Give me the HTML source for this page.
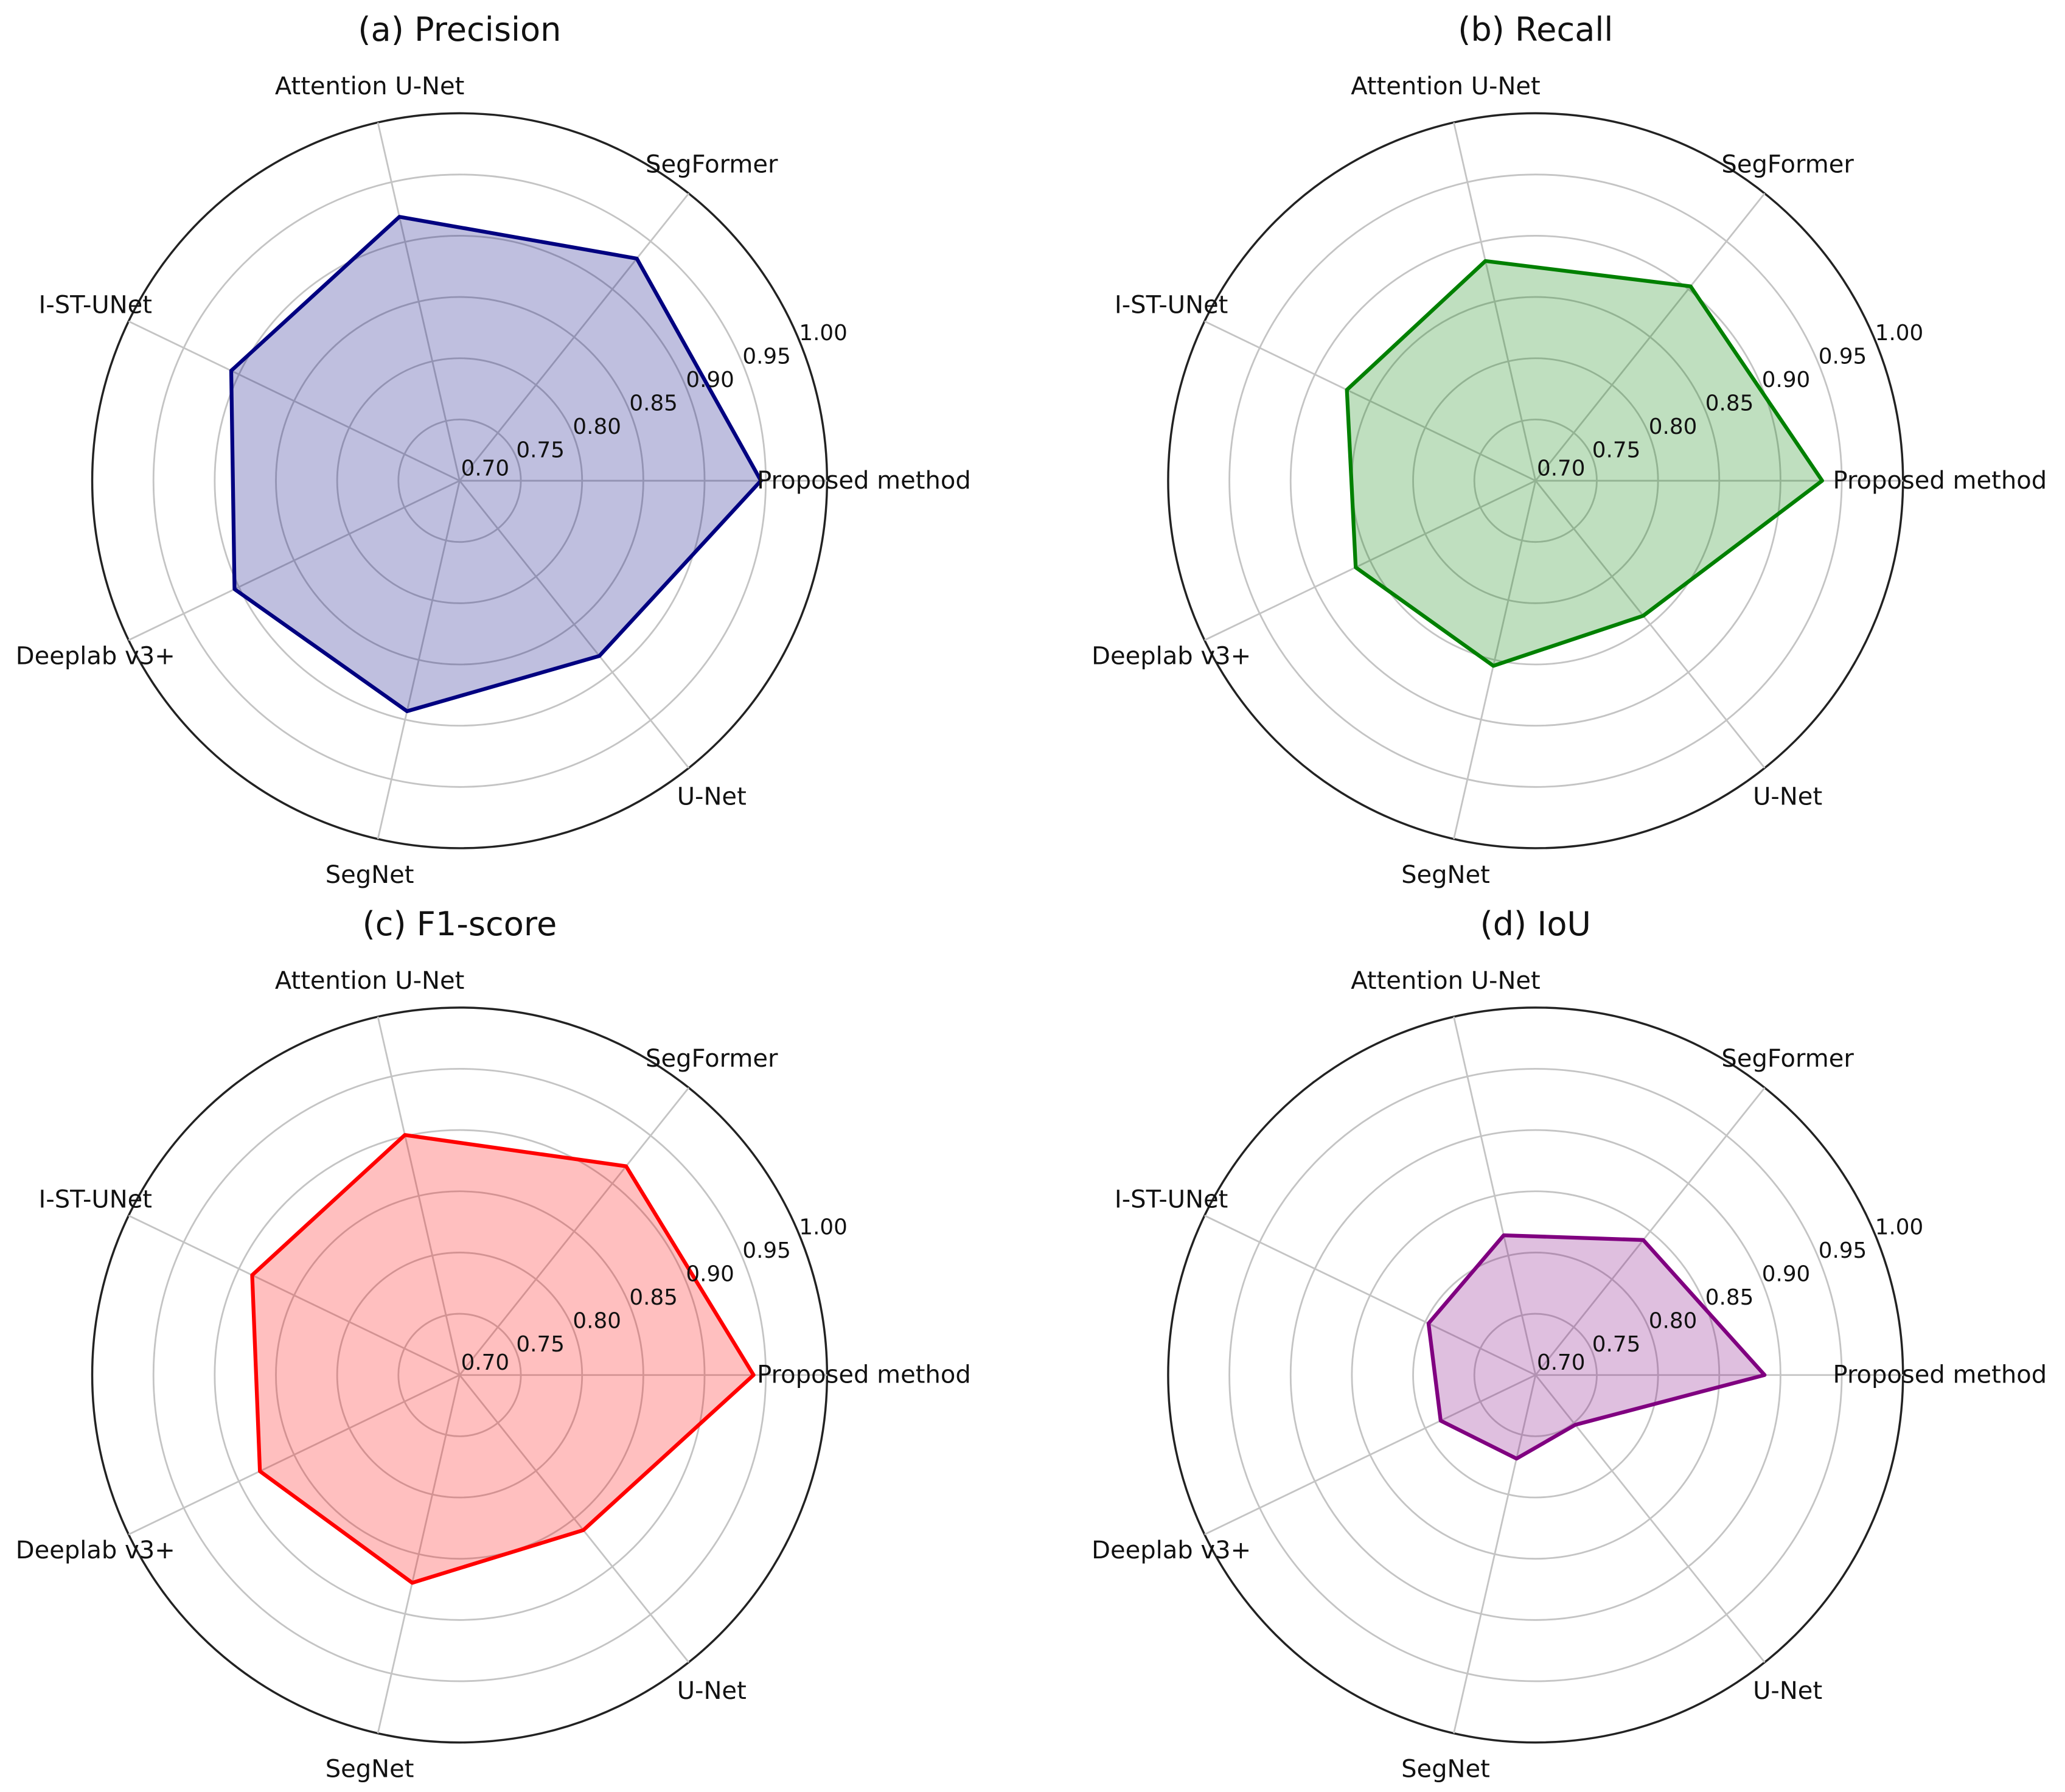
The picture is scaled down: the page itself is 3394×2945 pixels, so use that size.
<!DOCTYPE html>
<html><head><meta charset="utf-8"><style>
html,body{margin:0;padding:0;background:#fff}
svg{display:block}
text{font-family:"DejaVu Sans","Liberation Sans",sans-serif;fill:#111}
</style></head><body>
<svg id="chart" width="3394" height="2945" viewBox="0 0 1568 1360.6" xmlns="http://www.w3.org/2000/svg"></svg>
<script>
const categories = ["Proposed method","SegFormer","Attention U-Net","I-ST-UNet","Deeplab v3+","SegNet","U-Net"];
const precisionValues = [0.946,0.932,0.921,0.907,0.904,0.893,0.883];
const recallValues = [0.934,0.903,0.884,0.871,0.863,0.855,0.841];
const f1Values = [0.940,0.918,0.901,0.888,0.881,0.874,0.862];
const iouValues = [0.887,0.841,0.817,0.797,0.786,0.770,0.752];
const tickLabels = ["0.70","0.75","0.80","0.85","0.90","0.95","1.00"];
const tickValues = [0.70,0.75,0.80,0.85,0.90,0.95,1.00];
const titles = ["(a) Precision","(b) Recall","(c) F1-score","(d) IoU"];

const rMin = 0.70, rMax = 1.00, R = 279;
const panels = [
  {cx:349, cy:365, vals:precisionValues, color:"#000080", name:"precision"},
  {cx:1166, cy:365, vals:recallValues, color:"#008000", name:"recall"},
  {cx:349, cy:1044, vals:f1Values, color:"#ff0000", name:"f1-score"},
  {cx:1166, cy:1044, vals:iouValues, color:"#800080", name:"iou"}
];
const NS = "http://www.w3.org/2000/svg";
const svg = document.getElementById("chart");
function mk(tag, attrs, parent){const e=document.createElementNS(NS,tag);for(const k in attrs)e.setAttribute(k,attrs[k]);parent.appendChild(e);return e;}
function rScale(v){return (v-rMin)/(rMax-rMin)*R;}
function angle(i){return i*2*Math.PI/categories.length;}

panels.forEach((p,pi)=>{
  const g = mk("g",{},svg);
  
  
  tickValues.forEach((t,ti)=>{
    if(ti===0) return;
    const last = ti===tickValues.length-1;
    const c = mk("circle",{cx:p.cx,cy:p.cy,r:rScale(t),fill:"none",stroke:last?"#222":"#c4c4c4","stroke-width":last?1.6:1.3},g);
    
    
  });
  categories.forEach((cat,i)=>{
    const a=angle(i);
    const l = mk("line",{x1:p.cx,y1:p.cy,x2:p.cx+R*Math.cos(a),y2:p.cy-R*Math.sin(a),stroke:"#c4c4c4","stroke-width":1.3},g);
    
    
  });
  const pts = p.vals.map((v,i)=>{const a=angle(i),r=rScale(v);return (p.cx+r*Math.cos(a)).toFixed(2)+","+(p.cy-r*Math.sin(a)).toFixed(2);}).join(" ");
  const poly = mk("polygon",{points:pts,fill:p.color,"fill-opacity":0.25,stroke:p.color,"stroke-width":2.9,"stroke-linejoin":"round"},g);
  
  
  const ra = 22.5*Math.PI/180;
  tickValues.forEach((t,ti)=>{
    const r=rScale(t);
    const tx = mk("text",{x:p.cx+r*Math.cos(ra)+(ti===0?1:0),y:p.cy-r*Math.sin(ra)+(ti===0?-4:0),"font-size":16.5},g);
    tx.textContent = tickLabels[ti];
    
    
  });
  categories.forEach((cat,i)=>{
    const a=angle(i), r=307;
    const tx = mk("text",{x:p.cx+r*Math.cos(a),y:p.cy-r*Math.sin(a)+6,"font-size":18.5,"text-anchor":"middle"},g);
    tx.textContent = cat;
    
    
  });
  const title = mk("text",{x:p.cx,y:p.cy-334,"font-size":25,"text-anchor":"middle"},g);
  title.textContent = titles[pi];
  
  
});
</script>
</body></html>
